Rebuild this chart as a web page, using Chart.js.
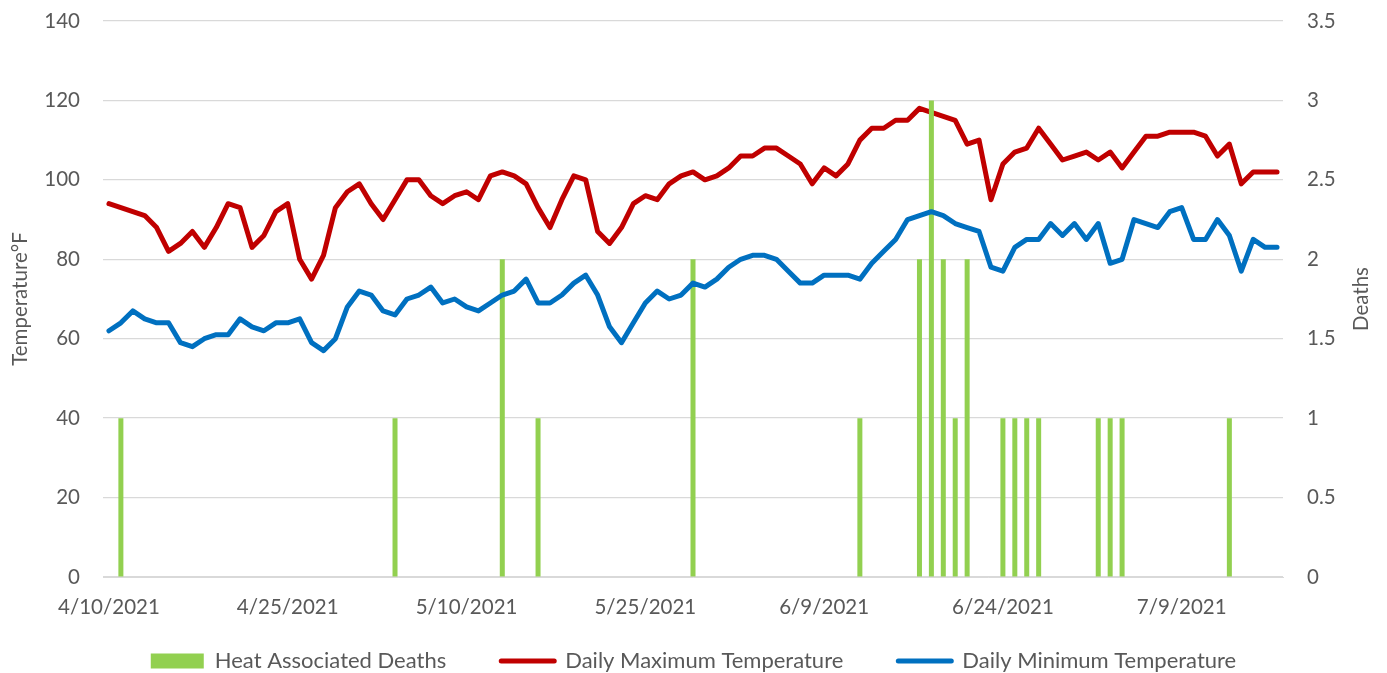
<!DOCTYPE html>
<html>
<head>
<meta charset="utf-8">
<script src="https://cdn.jsdelivr.net/npm/chart.js@4.4.1/dist/chart.umd.min.js"></script>
<style>
  html, body { margin: 0; padding: 0; background: #ffffff; }
  #wrap { width: 1387px; height: 673px; }
</style>
</head>
<body>
<div id="wrap"><canvas id="c" width="1387" height="673"></canvas></div>
<script>
const dates = [
  "4/10/2021","4/11/2021","4/12/2021","4/13/2021","4/14/2021","4/15/2021","4/16/2021","4/17/2021","4/18/2021","4/19/2021",
  "4/20/2021","4/21/2021","4/22/2021","4/23/2021","4/24/2021","4/25/2021","4/26/2021","4/27/2021","4/28/2021","4/29/2021",
  "4/30/2021","5/1/2021","5/2/2021","5/3/2021","5/4/2021","5/5/2021","5/6/2021","5/7/2021","5/8/2021","5/9/2021",
  "5/10/2021","5/11/2021","5/12/2021","5/13/2021","5/14/2021","5/15/2021","5/16/2021","5/17/2021","5/18/2021","5/19/2021",
  "5/20/2021","5/21/2021","5/22/2021","5/23/2021","5/24/2021","5/25/2021","5/26/2021","5/27/2021","5/28/2021","5/29/2021",
  "5/30/2021","5/31/2021","6/1/2021","6/2/2021","6/3/2021","6/4/2021","6/5/2021","6/6/2021","6/7/2021","6/8/2021",
  "6/9/2021","6/10/2021","6/11/2021","6/12/2021","6/13/2021","6/14/2021","6/15/2021","6/16/2021","6/17/2021","6/18/2021",
  "6/19/2021","6/20/2021","6/21/2021","6/22/2021","6/23/2021","6/24/2021","6/25/2021","6/26/2021","6/27/2021","6/28/2021",
  "6/29/2021","6/30/2021","7/1/2021","7/2/2021","7/3/2021","7/4/2021","7/5/2021","7/6/2021","7/7/2021","7/8/2021",
  "7/9/2021","7/10/2021","7/11/2021","7/12/2021","7/13/2021","7/14/2021","7/15/2021","7/16/2021","7/17/2021"
];
const tickDates = ["4/10/2021","4/25/2021","5/10/2021","5/25/2021","6/9/2021","6/24/2021","7/9/2021"];

const heatDeaths = [
  0,1,0,0,0,0,0,0,0,0,
  0,0,0,0,0,0,0,0,0,0,
  0,0,0,0,1,0,0,0,0,0,
  0,0,0,2,0,0,1,0,0,0,
  0,0,0,0,0,0,0,0,0,2,
  0,0,0,0,0,0,0,0,0,0,
  0,0,0,1,0,0,0,0,2,3,
  2,1,2,0,0,1,1,1,1,0,
  0,0,0,1,1,1,0,0,0,0,
  0,0,0,0,1,0,0,0,0
];
const maxTemp = [
  94,93,92,91,88,82,84,87,83,88,
  94,93,83,86,92,94,80,75,81,93,
  97,99,94,90,95,100,100,96,94,96,
  97,95,101,102,101,99,93,88,95,101,
  100,87,84,88,94,96,95,99,101,102,
  100,101,103,106,106,108,108,106,104,99,
  103,101,104,110,113,113,115,115,118,117,
  116,115,109,110,95,104,107,108,113,109,
  105,106,107,105,107,103,107,111,111,112,
  112,112,111,106,109,99,102,102,102
];
const minTemp = [
  62,64,67,65,64,64,59,58,60,61,
  61,65,63,62,64,64,65,59,57,60,
  68,72,71,67,66,70,71,73,69,70,
  68,67,69,71,72,75,69,69,71,74,
  76,71,63,59,64,69,72,70,71,74,
  73,75,78,80,81,81,80,77,74,74,
  76,76,76,75,79,82,85,90,91,92,
  91,89,88,87,78,77,83,85,85,89,
  86,89,85,89,79,80,90,89,88,92,
  93,85,85,90,86,77,85,83,83
];
const tempTicks = [0, 20, 40, 60, 80, 100, 120, 140];
const deathTicks = [0, 0.5, 1, 1.5, 2, 2.5, 3, 3.5];
const rightTitle = 'Deaths';

const TXT = '#595959';
const FONT = 'Lato, "Open Sans", sans-serif';
Chart.defaults.font.family = FONT;
Chart.defaults.color = TXT;

// Right-axis title drawn reading bottom-to-top, as in the reference
const rightTitlePlugin = {
  id: 'rightTitle',
  afterDraw(chart) {
    const s = chart.scales.y2;
    const ctx = chart.ctx;
    const size = 20.5;
    const x = s.right - 13 - size * 1.2 / 2;
    const y = (chart.chartArea.top + chart.chartArea.bottom) / 2;
    ctx.save();
    ctx.translate(x, y);
    ctx.rotate(-Math.PI / 2);
    ctx.font = size + 'px ' + FONT;
    ctx.fillStyle = TXT;
    ctx.textAlign = 'center';
    ctx.textBaseline = 'middle';
    ctx.fillText(rightTitle, 0, 0);
    ctx.restore();
  }
};

new Chart(document.getElementById('c'), {
  data: {
    labels: dates,
    datasets: [
      {
        type: 'bar', label: 'Heat Associated Deaths', data: heatDeaths,
        backgroundColor: '#92D050', yAxisID: 'y2', order: 2,
        barPercentage: 0.42, categoryPercentage: 1.0
      },
      {
        type: 'line', label: 'Daily Maximum Temperature', data: maxTemp,
        borderColor: '#C00000', backgroundColor: '#C00000', borderWidth: 5,
        pointRadius: 0, tension: 0, borderJoinStyle: 'round', borderCapStyle: 'round',
        yAxisID: 'y', order: 3
      },
      {
        type: 'line', label: 'Daily Minimum Temperature', data: minTemp,
        borderColor: '#0070C0', backgroundColor: '#0070C0', borderWidth: 5,
        pointRadius: 0, tension: 0, borderJoinStyle: 'round', borderCapStyle: 'round',
        yAxisID: 'y', order: 1
      }
    ]
  },
  plugins: [rightTitlePlugin],
  options: {
    responsive: false,
    animation: false,
    layout: { padding: { top: 21, left: 0, right: 0, bottom: -9 } },
    plugins: {
      tooltip: { enabled: false },
      legend: {
        position: 'bottom',
        labels: {
          font: { size: 22 },
          color: TXT,
          usePointStyle: true,
          pointStyleWidth: 53,
          boxHeight: 15,
          padding: 55,
          sort: (a, b) => a.datasetIndex - b.datasetIndex,
          generateLabels: (chart) => chart.data.datasets.map((ds, i) => ({
            text: ds.label,
            datasetIndex: i,
            fillStyle: ds.backgroundColor,
            strokeStyle: ds.type === 'line' ? ds.borderColor : ds.backgroundColor,
            lineWidth: ds.type === 'line' ? 5 : 0,
            lineCap: 'round',
            pointStyle: ds.type === 'line' ? 'line' : 'rect',
            fontColor: TXT,
            hidden: false
          }))
        }
      }
    },
    scales: {
      x: {
        type: 'category',
        offset: true,
        grid: { display: false, drawTicks: false },
        border: { display: true, color: '#D9D9D9', width: 1 },
        ticks: {
          autoSkip: false, maxRotation: 0, minRotation: 0, padding: 18,
          font: { size: 20.5 }, color: TXT,
          callback: function (v, i) {
            const l = this.getLabelForValue(v);
            return tickDates.includes(l) ? l : '';
          }
        },
        afterFit: (s) => { s.height = 18; s._computeLabelArea = () => undefined; }
      },
      y: {
        position: 'left', min: 0, max: 140,
        afterBuildTicks: (s) => { s.ticks = tempTicks.map(v => ({ value: v })); },
        grid: { color: '#D9D9D9', lineWidth: 1.3, drawTicks: true, tickLength: 23, tickColor: 'rgba(0,0,0,0)' },
        border: { display: false },
        ticks: { padding: 0, font: { size: 20.5 }, color: TXT },
        title: { display: true, text: 'Temperature°F', font: { size: 20.5 }, color: TXT, padding: { top: 8, bottom: 0 } },
        afterFit: (s) => { s.width = 103; }
      },
      y2: {
        position: 'right', min: 0, max: 3.5,
        afterBuildTicks: (s) => { s.ticks = deathTicks.map(v => ({ value: v })); },
        grid: { display: true, drawOnChartArea: false, drawTicks: true, tickLength: 24, tickColor: 'rgba(0,0,0,0)' },
        border: { display: false },
        ticks: { padding: 0, font: { size: 20.5 }, color: TXT, callback: (v) => String(v) },
        title: { display: false },
        afterFit: (s) => { s.width = 104; }
      }
    }
  }
});
</script>
</body>
</html>
